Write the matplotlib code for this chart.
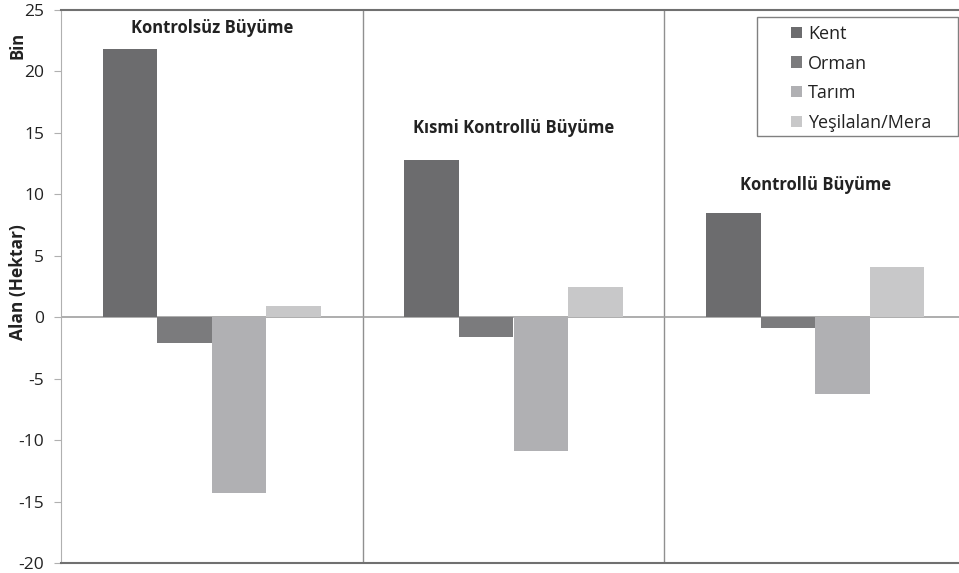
import numpy as np
import matplotlib.pyplot as plt
from matplotlib.patches import Rectangle

plt.rcParams['font.family'] = ['Open Sans', 'DejaVu Sans']

# land-use change per scenario, thousand hectares
scenarios = ['Kontrolsüz Büyüme', 'Kısmi Kontrollü Büyüme', 'Kontrollü Büyüme']
kent = [21.8, 12.8, 8.5]
orman = [-2.1, -1.6, -0.85]
tarim = [-14.3, -10.9, -6.25]
yesil = [0.9, 2.45, 4.1]

series = ['Kent', 'Orman', 'Tarım', 'Yeşilalan/Mera']
colors = ['#6c6c6e', '#7b7b7d', '#b0b0b3', '#c8c8c9']
yticks = list(range(-20, 30, 5))

W, H = 959, 573
fig = plt.figure(figsize=(W / 100, H / 100), dpi=100)
ax = fig.add_axes([61 / W, 10 / H, 905 / W, 553 / H])

x = np.arange(len(scenarios))
w = 0.181
for i, (vals, col, name) in enumerate(zip([kent, orman, tarim, yesil], colors, series)):
    ax.bar(x + (i - 1.5) * w, vals, w, color=col, label=name, zorder=3)

ax.set_xlim(-0.5, 2.5)
ax.set_ylim(-20, 25)
ax.set_yticks(yticks)
ax.set_yticklabels([str(t) for t in yticks], fontsize=12.5, color='#222222')
ax.set_xticks([])

ax.axhline(0, color='#a0a0a0', lw=1.2, zorder=2)
for sep in [0.5, 1.5]:
    ax.axvline(sep, color='#909090', lw=1.0, zorder=1)

ax.spines['right'].set_visible(False)
ax.spines['left'].set_color('#b0b0b0')
ax.spines['top'].set_color('#707070')
ax.spines['top'].set_linewidth(1.5)
ax.spines['bottom'].set_color('#707070')
ax.spines['bottom'].set_linewidth(1.5)
ax.tick_params(axis='y', length=5, color='#b0b0b0', pad=7)

# scenario titles above each group
title_y = [23.5, 15.4, 10.8]
for xi, (name, ty) in enumerate(zip(scenarios, title_y)):
    ax.text(xi, ty, name, ha='center', va='center', fontsize=12,
            fontweight='bold', color='#222222')

fig.text(18 / W, 1 - 282 / H, 'Alan (Hektar)', rotation=90, ha='center',
         va='center', fontsize=12.5, fontweight='bold', color='#222222')
fig.text(18 / W, 1 - 45 / H, 'Bin', rotation=90, ha='center',
         va='center', fontsize=12, fontweight='bold', color='#222222')

# legend entries without frame; the box is drawn separately so it can be wider
leg = ax.legend(loc='upper left', bbox_to_anchor=(791 / W, 1 - 25 / H),
                bbox_transform=fig.transFigure, frameon=False, fontsize=13,
                handlelength=0.6, handleheight=0.6, handletextpad=0.35,
                labelspacing=0.64, borderpad=0, borderaxespad=0)
for t in leg.get_texts():
    t.set_color('#222222')
fig.add_artist(Rectangle((757 / W, 1 - 136 / H), 201 / W, 119 / H,
                         transform=fig.transFigure, fill=False,
                         edgecolor='#808080', lw=1.0))

fig.savefig('out.png', dpi=100)
